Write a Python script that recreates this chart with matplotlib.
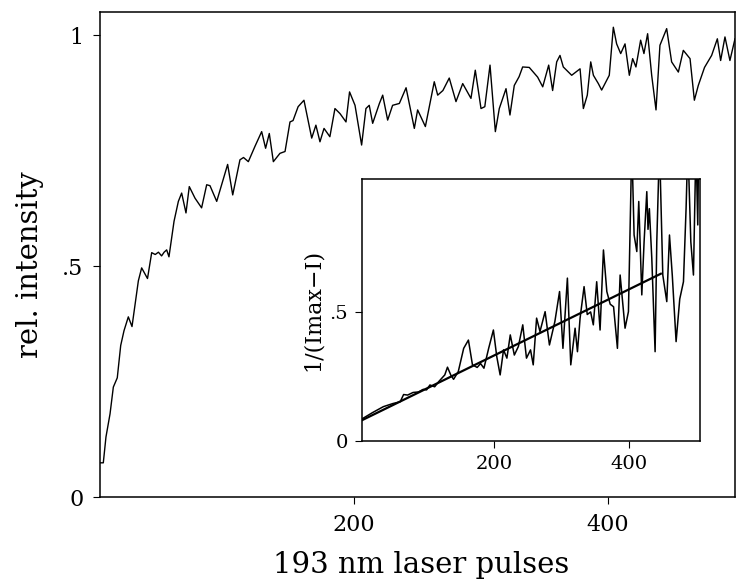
import numpy as np
import matplotlib
matplotlib.use("Agg")
import matplotlib.pyplot as plt

plt.rcParams['font.family'] = ['DejaVu Serif']

# relative intensity vs. number of 193 nm pulses
pulses = [0, 2.6, 4.7, 7.9, 10.5, 13.6, 16.3, 18.9, 22.3, 25.2, 27.6, 30.2, 32.8,
          37.4, 40.7, 43.5, 46, 48.5, 50.5, 52.5, 54.3, 58.3, 61.7, 64.3, 67.7,
          70.3, 74.8, 80, 84, 86.6, 91.9, 100.5, 104.5, 110.2, 113, 116.8, 122,
          127.3, 130.4, 133.3, 136.5, 141.7, 145.7, 149.6, 152, 156, 160.6,
          166.7, 170, 173.2, 176.4, 181, 185, 189, 193.7, 196.5, 200.8, 206,
          209.4, 212, 214.7, 220, 222.6, 226.5, 230.4, 235.7, 241, 247.5, 250.1,
          256.2, 263.2, 265.9, 270, 275, 280.3, 285.6, 292.1, 295.5, 300, 303,
          307.1, 311.3, 314.4, 319.7, 322.8, 326.2, 330, 332.8, 338, 344.6,
          348.6, 353.3, 356.4, 359.6, 362.2, 364.8, 371.4, 378, 380.6, 383.7,
          386.4, 388.5, 392.4, 395, 401, 404.2, 406.8, 410, 413.4, 416.8, 419.4,
          422, 425.7, 428.3, 431.2, 434.4, 437.8, 440.9, 446.2, 450.1, 455.4,
          459.3, 464.6, 468, 471.1, 476, 481.6, 486.1, 488.7, 492.1, 496, 500]
intensity = [0.074, 0.074, 0.13, 0.18, 0.238, 0.258, 0.328, 0.36, 0.39, 0.369,
             0.417, 0.468, 0.496, 0.473, 0.529, 0.525, 0.53, 0.522, 0.53, 0.535,
             0.52, 0.597, 0.64, 0.658, 0.615, 0.672, 0.647, 0.626, 0.676, 0.674,
             0.64, 0.72, 0.654, 0.73, 0.735, 0.726, 0.759, 0.791, 0.755, 0.787,
             0.726, 0.744, 0.748, 0.812, 0.815, 0.845, 0.859, 0.777, 0.805,
             0.769, 0.798, 0.78, 0.841, 0.83, 0.812, 0.877, 0.848, 0.762, 0.841,
             0.848, 0.809, 0.852, 0.87, 0.816, 0.848, 0.852, 0.886, 0.798, 0.838,
             0.802, 0.899, 0.87, 0.88, 0.907, 0.856, 0.895, 0.863, 0.924, 0.841,
             0.845, 0.935, 0.791, 0.841, 0.884, 0.827, 0.891, 0.91, 0.931, 0.93,
             0.909, 0.888, 0.935, 0.88, 0.942, 0.956, 0.931, 0.913, 0.927, 0.841,
             0.87, 0.942, 0.913, 0.895, 0.881, 0.913, 1.017, 0.981, 0.96, 0.981,
             0.913, 0.949, 0.931, 0.989, 0.96, 1.003, 0.913, 0.838, 0.978, 1.014,
             0.942, 0.92, 0.967, 0.949, 0.859, 0.891, 0.93, 0.956, 0.992, 0.945,
             0.996, 0.945, 0.992]

# inset: 1/(Imax-I) with linear fit
inv_pulses = [4, 20, 36, 50, 61, 66, 72, 80, 88, 95, 100, 105, 112, 118, 127,
              131, 136, 140, 147, 155, 162, 168, 175, 180, 185, 192, 199, 204,
              209, 214, 219, 224, 230, 236, 242.5, 248, 254, 258, 263, 268,
              275.6, 282, 290, 297, 302, 308.6, 313.6, 320, 323.5, 327.4, 333.3,
              338, 343, 347, 352, 357, 362, 367, 372, 377, 382.7, 386.7, 394,
              399, 404, 407.4, 411.4, 414.3, 418.8, 422.2, 426.2, 428, 430,
              433.6, 438.5, 441, 445, 449.9, 455.8, 459.8, 464, 469.6, 475,
              480.5, 484.4, 487, 491.4, 495.3, 499, 501.7, 503]
inv_value = [0.085, 0.11, 0.133, 0.145, 0.152, 0.18, 0.178, 0.188, 0.19, 0.2,
             0.198, 0.217, 0.21, 0.23, 0.256, 0.286, 0.255, 0.239, 0.269, 0.359,
             0.391, 0.295, 0.285, 0.3, 0.282, 0.359, 0.43, 0.327, 0.256, 0.353,
             0.321, 0.411, 0.333, 0.366, 0.45, 0.321, 0.353, 0.295, 0.476, 0.424,
             0.501, 0.372, 0.462, 0.579, 0.359, 0.631, 0.295, 0.437, 0.346,
             0.476, 0.598, 0.49, 0.5, 0.45, 0.617, 0.43, 0.74, 0.579, 0.53, 0.52,
             0.359, 0.643, 0.437, 0.501, 1.15, 0.798, 0.734, 0.928, 0.566, 0.772,
             0.966, 0.82, 0.9, 0.708, 0.346, 0.772, 1.15, 0.643, 0.54, 0.798,
             0.64, 0.385, 0.55, 0.617, 0.902, 1.15, 0.772, 0.643, 1.15, 0.837,
             1.15]
fit_x = [4, 447]
fit_y = [0.08, 0.648]

W, H = 736, 581
fig = plt.figure(figsize=(W / 100, H / 100), dpi=100)

ax = fig.add_axes([100 / W, (H - 497) / H, 635 / W, 485 / H])
ax.plot(pulses, intensity, color='black', lw=1.0)
ax.set_xlim(0, 500)
ax.set_ylim(0, 1.05)
ax.set_xticks([200, 400], ['200', '400'])
ax.set_yticks([0, 0.5, 1], ['0', '.5', '1'])
ax.tick_params(direction='out', length=5, width=0.8, labelsize=16, pad=7)
for s in ax.spines.values():
    s.set_linewidth(1.1)

fig.text(421 / W, 1 - 565 / H, '193 nm laser pulses', fontsize=21,
         ha='center', va='center')
fig.text(30 / W, 1 - 265 / H, 'rel. intensity', fontsize=21,
         ha='center', va='center', rotation=90)

ins = fig.add_axes([362 / W, (H - 441) / H, 338 / W, 262 / H])
ins.plot(inv_pulses, inv_value, color='black', lw=1.1)
ins.plot(fit_x, fit_y, color='black', lw=1.6)
ins.set_xlim(4.4, 505)
ins.set_ylim(0, 1.015)
ins.set_xticks([200, 400], ['200', '400'])
ins.set_yticks([0, 0.5], ['0', '.5'])
ins.tick_params(direction='out', length=5, width=0.8, labelsize=14, pad=5)
ins.set_ylabel('1/(Imax\u2212I)', fontsize=16, labelpad=4)
for s in ins.spines.values():
    s.set_linewidth(1.1)

fig.savefig('out.png', dpi=100)
